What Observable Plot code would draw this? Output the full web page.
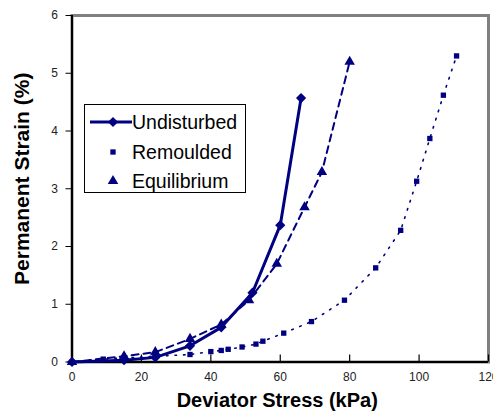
<!DOCTYPE html>
<html>
<head>
<meta charset="utf-8">
<script src="https://cdn.jsdelivr.net/npm/d3@7"></script>
<script src="https://cdn.jsdelivr.net/npm/@observablehq/plot@0.6"></script>
<style>
  html, body { margin: 0; padding: 0; background: #fff; }
  #wrap { position: relative; width: 493px; height: 411px; font-family: "Liberation Sans", Arial, sans-serif; }
  #legend { position: absolute; left: 84px; top: 104px; width: 162px; height: 89px; border: 1px solid #000; background: #fff; box-sizing: border-box; }
  #legend svg { position: absolute; left: 0; top: 0; }
  #legend .lbl { position: absolute; left: 47px; font-size: 19.5px; line-height: 20px; color: #000; white-space: nowrap; }
</style>
</head>
<body>
<div id="wrap"></div>
<script>
// ---- data ----
const undisturbedX = [0, 15, 24, 34, 43, 52, 60, 66];
const undisturbedY = [0, 0.03, 0.08, 0.28, 0.6, 1.2, 2.37, 4.57];

const remouldedX = [0, 9, 34, 40, 43, 45, 49, 53, 55, 61, 69, 78.5, 87.5, 94.7, 99.3, 103.1, 107, 110.8];
const remouldedY = [0, 0.05, 0.13, 0.18, 0.2, 0.22, 0.26, 0.31, 0.36, 0.5, 0.7, 1.07, 1.63, 2.28, 3.13, 3.87, 4.62, 5.3];

const equilibriumX = [0, 15, 24, 34, 43, 51, 59, 67, 72, 80];
const equilibriumY = [0, 0.1, 0.17, 0.4, 0.65, 1.07, 1.7, 2.68, 3.29, 5.2];

const seriesNames = ["Undisturbed", "Remoulded", "Equilibrium"];
const xTicks = [0, 20, 40, 60, 80, 100, 120];
const yTicks = [0, 1, 2, 3, 4, 5, 6];
const xTitle = "Deviator Stress (kPa)";
const yTitle = "Permanent Strain (%)";

const toRows = (xs, ys) => xs.map((x, i) => ({x, y: ys[i]}));
const und = toRows(undisturbedX, undisturbedY);
const rem = toRows(remouldedX, remouldedY);
const equ = toRows(equilibriumX, equilibriumY);

const navy = "#000080";
const W = 493, H = 411, mT = 15, mB = 49.5, mL = 71.5, mR = 5;
const innerH = H - mT - mB;

const chart = Plot.plot({
  width: W, height: H,
  marginTop: mT, marginBottom: mB, marginLeft: mL, marginRight: mR,
  style: {fontFamily: "Liberation Sans, Arial, sans-serif", background: "#fff", overflow: "visible"},
  x: {domain: [0, 120]},
  y: {domain: [0, 6]},
  marks: [
    Plot.frame({stroke: "#808080", strokeWidth: 3}),
    Plot.ruleX([0], {stroke: "#000", strokeWidth: 2}),
    Plot.ruleY([0], {stroke: "#000", strokeWidth: 2}),
    Plot.tickX(xTicks, {x: d => d, stroke: "#000", strokeWidth: 1.2, insetTop: innerH - 7}),
    Plot.axisX({ticks: xTicks, tickSize: 0, tickPadding: 10, fontSize: 12, fill: "#222", label: null, tickFormat: d => String(d)}),
    Plot.axisY({ticks: yTicks, tickSize: 6, tickPadding: 8, fontSize: 12, fill: "#222", stroke: "#000", label: null, tickFormat: d => String(d)}),
    // Remoulded: dotted
    Plot.line(rem, {x: "x", y: "y", stroke: navy, strokeWidth: 1.6, strokeDasharray: "1.6,7"}),
    Plot.dot(rem, {x: "x", y: "y", symbol: "square", r: 3, fill: navy, stroke: "none"}),
    // Equilibrium: dashed
    Plot.line(equ, {x: "x", y: "y", stroke: navy, strokeWidth: 2, strokeDasharray: "7,5"}),
    Plot.dot(equ, {x: "x", y: "y", symbol: "triangle", r: 3.9, fill: navy, stroke: "none"}),
    // Undisturbed: solid
    Plot.line(und, {x: "x", y: "y", stroke: navy, strokeWidth: 3}),
    Plot.dot(und, {x: "x", y: "y", symbol: "diamond2", r: 4.6, fill: navy, stroke: "none"}),
    // titles
    Plot.text([xTitle], {frameAnchor: "bottom", lineAnchor: "middle", textAnchor: "middle", dx: -3, dy: 38.5, fontSize: 20, fontWeight: "bold", fill: "#000"}),
    Plot.text([yTitle], {frameAnchor: "left", lineAnchor: "middle", textAnchor: "middle", rotate: -90, dx: -50, dy: -10, fontSize: 21, fontWeight: "bold", fill: "#000"})
  ]
});

const wrap = document.getElementById("wrap");
wrap.appendChild(chart);

// ---- legend ----
const legend = document.createElement("div");
legend.id = "legend";
const ns = "http://www.w3.org/2000/svg";
const svg = document.createElementNS(ns, "svg");
svg.setAttribute("width", 162); svg.setAttribute("height", 89);
const rowsY = [17, 47, 76];
const sx = 28;
function el(tag, attrs) { const e = document.createElementNS(ns, tag); for (const k in attrs) e.setAttribute(k, attrs[k]); svg.appendChild(e); return e; }
el("line", {x1: 5, x2: 47, y1: rowsY[0], y2: rowsY[0], stroke: navy, "stroke-width": 3});
el("path", {d: d3.symbol(d3.symbolDiamond2, Math.PI * 4.6 * 4.6)(), transform: `translate(${sx},${rowsY[0]})`, fill: navy});
el("path", {d: d3.symbol(d3.symbolSquare, Math.PI * 3 * 3)(), transform: `translate(${sx},${rowsY[1]})`, fill: navy});
el("path", {d: d3.symbol(d3.symbolTriangle, Math.PI * 3.9 * 3.9)(), transform: `translate(${sx},${rowsY[2]})`, fill: navy});
legend.appendChild(svg);
seriesNames.forEach((name, i) => {
  const s = document.createElement("span");
  s.className = "lbl";
  s.textContent = name;
  s.style.top = (rowsY[i] - 10) + "px";
  legend.appendChild(s);
});
wrap.appendChild(legend);
</script>
</body>
</html>
